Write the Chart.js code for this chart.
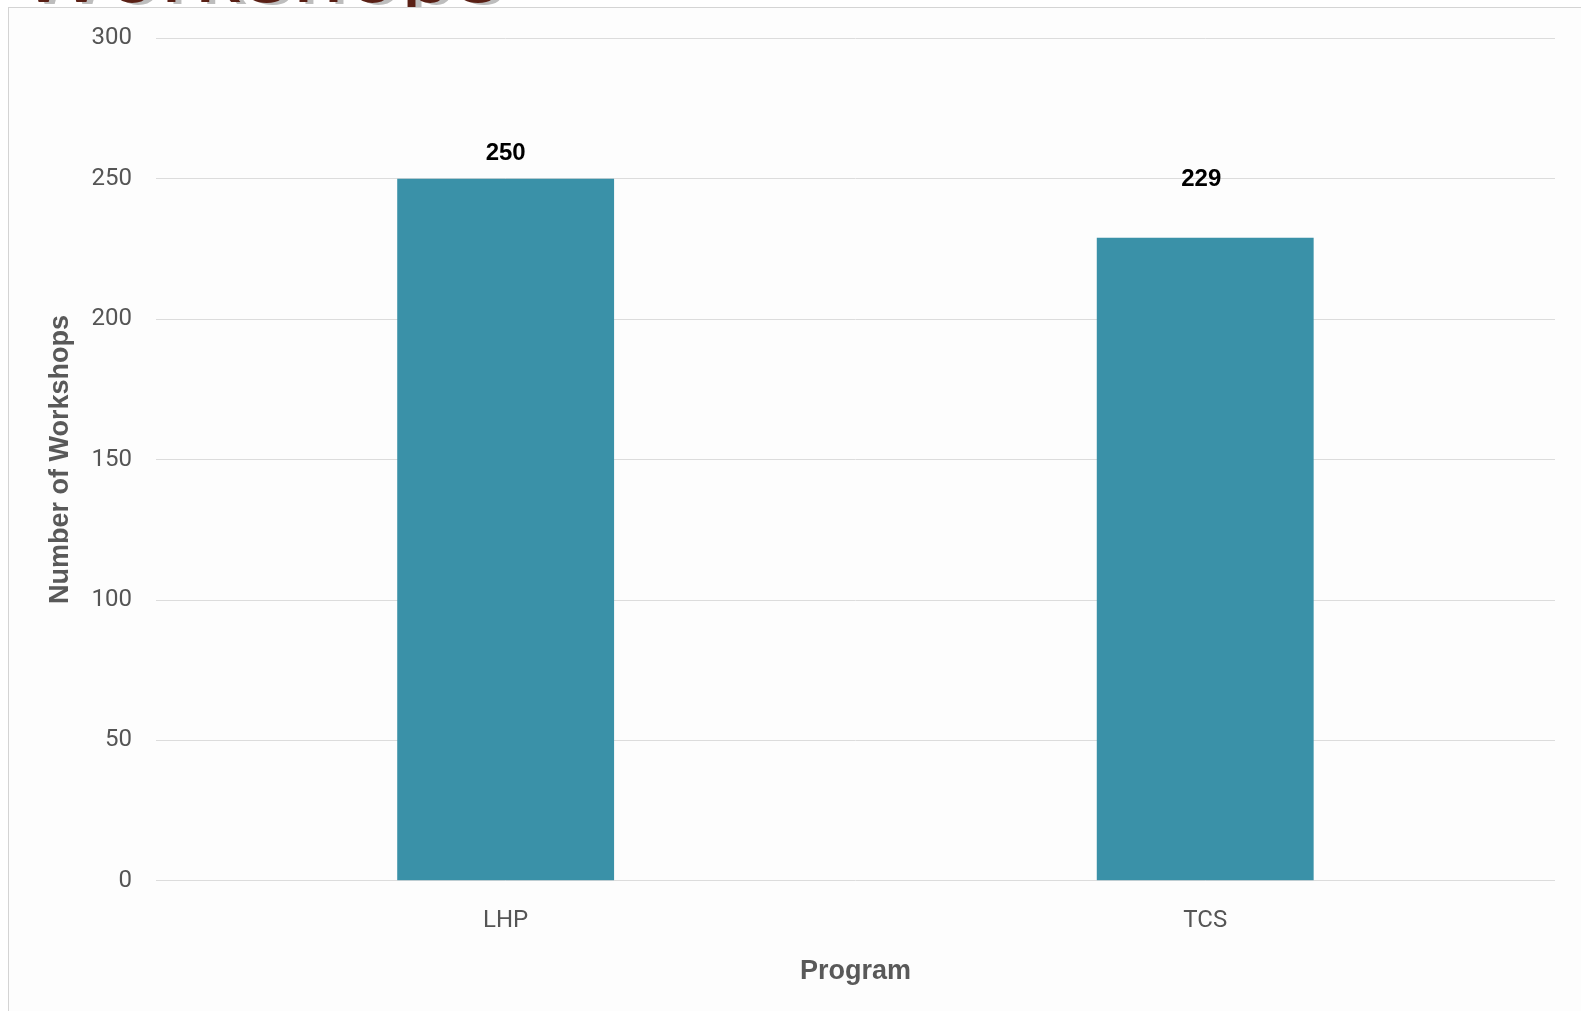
<!DOCTYPE html>
<html>
<head>
<meta charset="utf-8">
<script src="https://cdn.jsdelivr.net/npm/chart.js@4"></script>
<style>
    html, body { margin: 0; padding: 0; background: #ffffff; overflow: hidden; }
    body { width: 1581px; height: 1011px; position: relative; }
    .heading {
        position: absolute; left: 20px; top: -80px; margin: 0;
        font: 90px "Liberation Sans", Arial, sans-serif; color: #5a2015;
        text-shadow: 6px 2px 0 #bdbdbd; white-space: nowrap; letter-spacing: 4px;
    }
    .panel {
        position: absolute; left: 8px; top: 7px; width: 1600px; height: 1040px;
        background: #fdfdfd; border: 1px solid #d4d4d4; box-sizing: border-box;
    }
    #chartWrap { position: absolute; left: 0; top: 0; width: 1581px; height: 1011px; }
</style>
</head>
<body>
<h1 class="heading">Workshops</h1>
<div class="panel"></div>
<div id="chartWrap"><canvas id="workshopChart"></canvas></div>
<script>
// Workshops per program
const programs = ['LHP', 'TCS'];
const workshopCounts = [250, 229];
const yTicks = [0, 50, 100, 150, 200, 250, 300];

// Value labels above each bar (dx / dy in px from the bar top centre)
const valueLabels = {
    id: 'valueLabels',
    afterDatasetsDraw(chart, args, opts) {
        const ctx = chart.ctx;
        const meta = chart.getDatasetMeta(0);
        ctx.save();
        ctx.font = 'bold 24px "Liberation Sans", Arial, sans-serif';
        ctx.fillStyle = '#000000';
        ctx.textAlign = 'center';
        ctx.textBaseline = 'middle';
        meta.data.forEach((bar, i) => {
            const value = chart.data.datasets[0].data[i];
            ctx.fillText(String(value), bar.x + opts.dx[i], bar.y - opts.dy[i]);
        });
        ctx.restore();
    }
};

const ctx = document.getElementById('workshopChart').getContext('2d');

new Chart(ctx, {
    type: 'bar',
    data: {
        labels: programs,
        datasets: [{
            label: 'Number of Workshops',
            data: workshopCounts,
            backgroundColor: '#3a91a8',
            borderWidth: 0,
            categoryPercentage: 1,
            barPercentage: 0.31
        }]
    },
    plugins: [valueLabels],
    options: {
        responsive: true,
        maintainAspectRatio: false,
        animation: false,
        layout: {
            padding: { left: 44, right: 26, top: 20, bottom: 23 }
        },
        plugins: {
            legend: { display: false },
            tooltip: { enabled: false },
            valueLabels: { dx: [0, -4], dy: [25, 58] }
        },
        scales: {
            x: {
                grid: { display: false, drawTicks: false },
                border: { display: false },
                ticks: {
                    color: '#555555',
                    padding: 26,
                    font: { family: 'Roboto', size: 24 }
                },
                title: {
                    display: true,
                    text: 'Program',
                    color: '#595959',
                    padding: { top: -6, bottom: 0 },
                    font: { family: '"Liberation Sans", Arial, sans-serif', size: 27, weight: 'bold' }
                }
            },
            y: {
                min: 0,
                max: 300,
                afterBuildTicks(axis) {
                    axis.ticks = yTicks.map(v => ({ value: v }));
                },
                grid: { color: '#dcdcdc', lineWidth: 1, drawTicks: false },
                border: { display: false },
                ticks: {
                    color: '#555555',
                    padding: 24,
                    font: { family: 'Roboto', size: 24 }
                },
                title: {
                    display: true,
                    text: 'Number of Workshops',
                    color: '#595959',
                    padding: { top: 0, bottom: -9 },
                    font: { family: '"Liberation Sans", Arial, sans-serif', size: 27, weight: 'bold' }
                }
            }
        }
    }
});
</script>
</body>
</html>
